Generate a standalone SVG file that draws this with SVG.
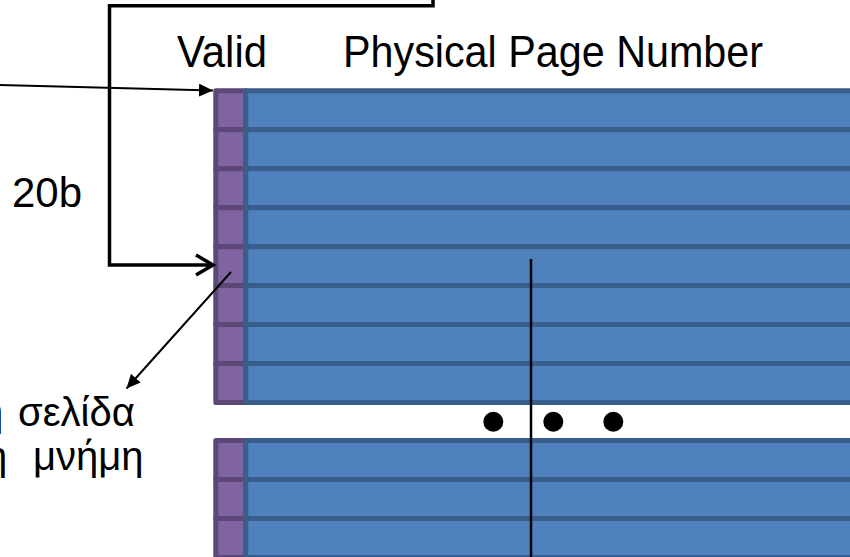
<svg xmlns="http://www.w3.org/2000/svg" width="850" height="557" viewBox="0 0 850 557">
  <style>
    .lbl { font-family: "Liberation Sans", Arial, sans-serif; fill: #000; }
    .v { fill: #8064A2; stroke: #5C4776; stroke-width: 5; stroke-linejoin: round; }
    .p { fill: #4F81BD; stroke: #3A5E8C; stroke-width: 5; stroke-linejoin: round; }
    .thin { stroke: #000; stroke-width: 2; fill: none; }
  </style>
  <defs>
    <marker id="tri" markerUnits="userSpaceOnUse" markerWidth="15" markerHeight="13" refX="14" refY="6.5" orient="auto">
      <path d="M0,0 L14,6.5 L0,13 z" fill="#000"/>
    </marker>
    <marker id="vee" markerUnits="userSpaceOnUse" markerWidth="24" markerHeight="24" refX="19" refY="12" orient="auto">
      <path d="M2,2 L19,12 L2,22" fill="none" stroke="#000" stroke-width="3.5"/>
    </marker>
  </defs>
  <rect width="850" height="557" fill="#fff"/>

  <g id="table-top">
    <rect class="v" x="215.8" y="90.8" width="30" height="38.96"/>
    <rect class="v" x="215.8" y="129.76" width="30" height="38.96"/>
    <rect class="v" x="215.8" y="168.72" width="30" height="38.96"/>
    <rect class="v" x="215.8" y="207.68" width="30" height="38.96"/>
    <rect class="v" x="215.8" y="246.64" width="30" height="38.96"/>
    <rect class="v" x="215.8" y="285.6" width="30" height="38.96"/>
    <rect class="v" x="215.8" y="324.56" width="30" height="38.96"/>
    <rect class="v" x="215.8" y="363.52" width="30" height="38.96"/>
    <rect class="p" x="245.8" y="90.8" width="620" height="38.96"/>
    <rect class="p" x="245.8" y="129.76" width="620" height="38.96"/>
    <rect class="p" x="245.8" y="168.72" width="620" height="38.96"/>
    <rect class="p" x="245.8" y="207.68" width="620" height="38.96"/>
    <rect class="p" x="245.8" y="246.64" width="620" height="38.96"/>
    <rect class="p" x="245.8" y="285.6" width="620" height="38.96"/>
    <rect class="p" x="245.8" y="324.56" width="620" height="38.96"/>
    <rect class="p" x="245.8" y="363.52" width="620" height="38.96"/>
  </g>

  <g id="table-bottom">
    <rect class="v" x="215.8" y="440.5" width="30" height="39"/>
    <rect class="v" x="215.8" y="479.5" width="30" height="39"/>
    <rect class="v" x="215.8" y="518.5" width="30" height="39"/>
    <rect class="p" x="245.8" y="440.5" width="620" height="39"/>
    <rect class="p" x="245.8" y="479.5" width="620" height="39"/>
    <rect class="p" x="245.8" y="518.5" width="620" height="39"/>
  </g>

  <g id="ellipsis">
    <circle cx="493.3" cy="421.7" r="10"/>
    <circle cx="553.3" cy="421.7" r="10"/>
    <circle cx="613.3" cy="421.7" r="10"/>
  </g>

  <g id="label-valid">
    <text class="lbl" x="177" y="67" font-size="44" textLength="90" lengthAdjust="spacingAndGlyphs">Valid</text>
  </g>
  <g id="label-ppn">
    <text class="lbl" x="343" y="67" font-size="44" textLength="420" lengthAdjust="spacingAndGlyphs">Physical Page Number</text>
  </g>
  <g id="label-20b">
    <text class="lbl" x="12" y="207" font-size="42" textLength="70" lengthAdjust="spacingAndGlyphs">20b</text>
  </g>
  <g id="label-greek">
    <text class="lbl" x="-19" y="426" font-size="40">η <tspan x="18">σελίδα</tspan></text>
    <text class="lbl" x="-15" y="470" font-size="40">η <tspan x="33">μνήμη</tspan></text>
  </g>

  <g id="connectors">
    <line class="thin" x1="0" y1="85" x2="213" y2="90.5" marker-end="url(#tri)"/>
    <path d="M433,-2 V5.7 H109.5 V265 H213" fill="none" stroke="#000" stroke-width="3.5" stroke-linejoin="miter" marker-end="url(#vee)"/>
    <line class="thin" x1="231" y1="272" x2="126.5" y2="388.5" marker-end="url(#tri)"/>
    <line x1="531" y1="259" x2="531" y2="557" stroke="#000" stroke-width="2.5"/>
  </g>
</svg>
